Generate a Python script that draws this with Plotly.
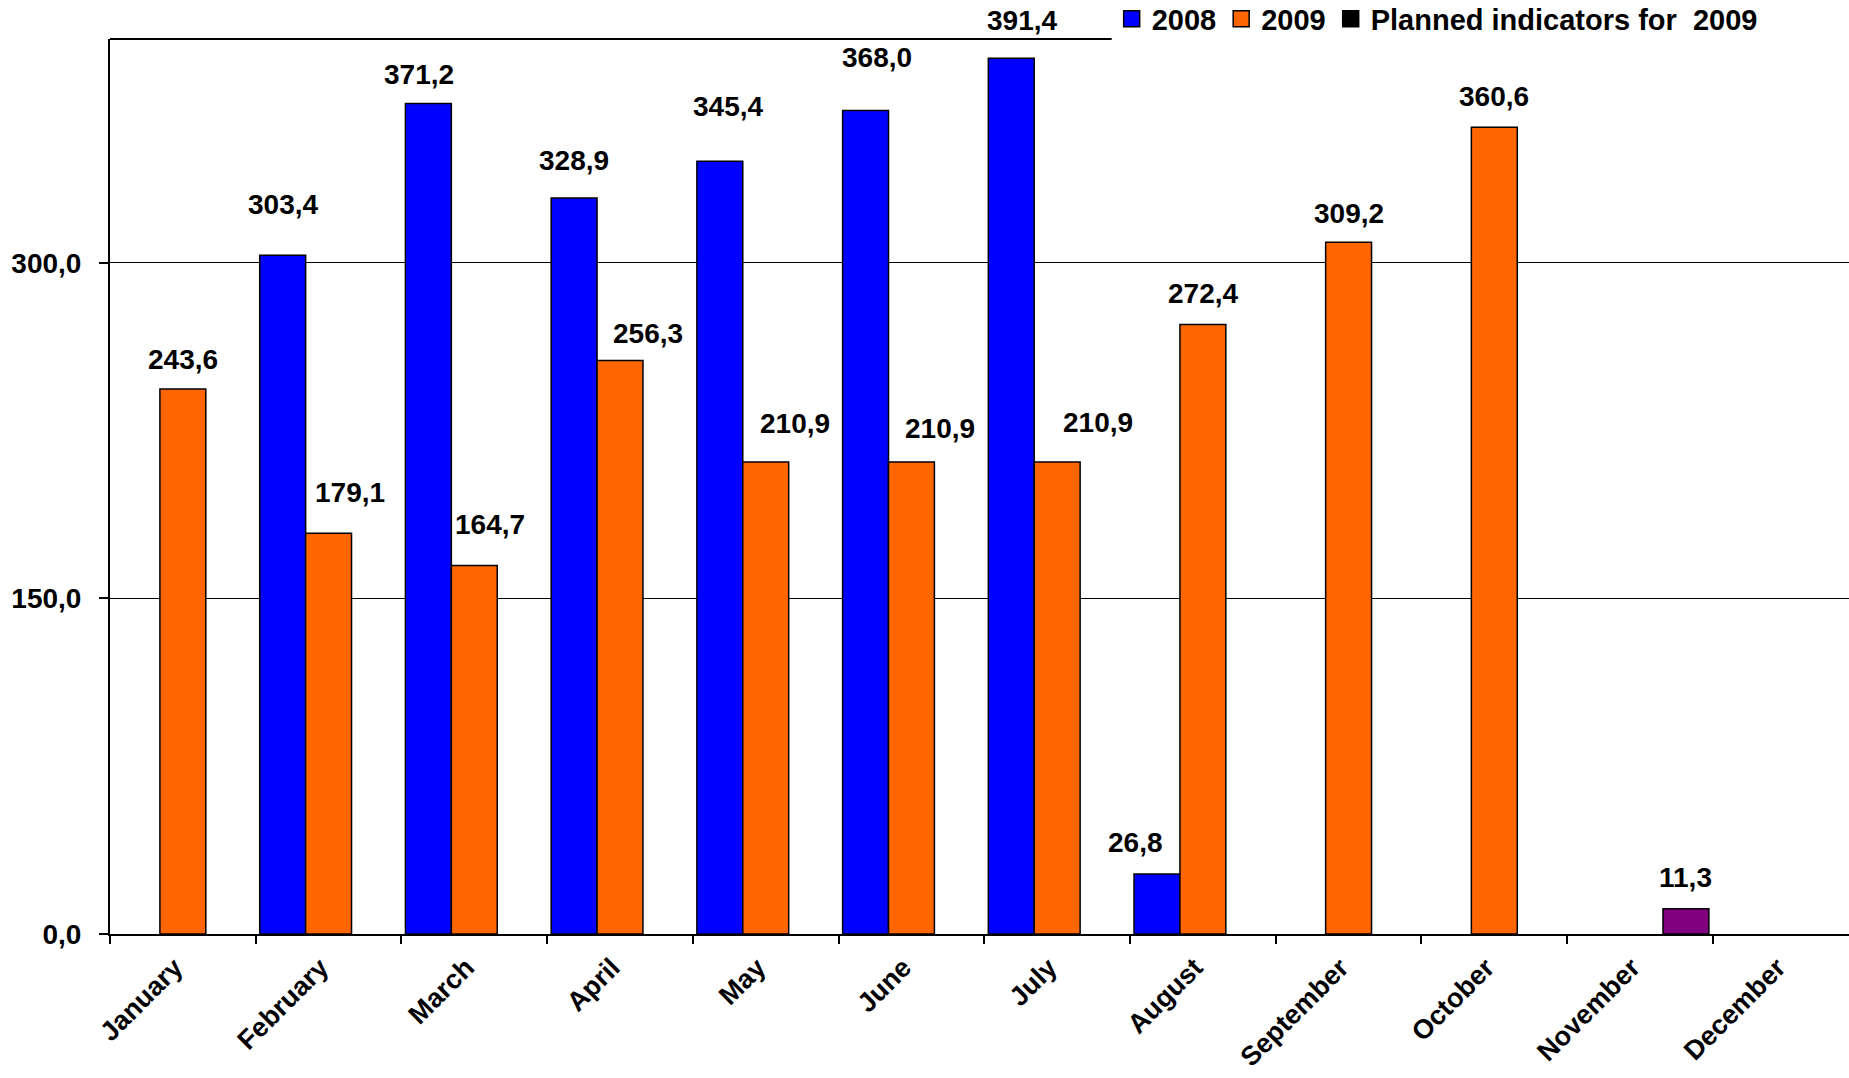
import plotly.graph_objects as go

months = ["January", "February", "March", "April", "May", "June", "July",
          "August", "September", "October", "November", "December"]
v2008 = [None, 303.4, 371.2, 328.9, 345.4, 368.0, 391.4, 26.8, None, None, None, None]
v2009 = [243.6, 179.1, 164.7, 256.3, 210.9, 210.9, 210.9, 272.4, 309.2, 360.6, None, None]
planned = [None, None, None, None, None, None, None, None, None, None, 11.3, None]
y_ticks = [0, 150, 300]
y_tick_text = ["0,0", "150,0", "300,0"]

# label nudges (pixels) to mimic hand-placed data labels
dx2008 = [0, 0, -9, 0, 8, 11, 11, -21, 0, 0, 0, 0]
dy2008 = [0, 51, 29, 38, 55, 53, 38, 32, 0, 0, 0, 0]
dx2009 = [0, 21, 16, 28, 29, 29, 41, 0, 0, 0, 0, 0]
dy2009 = [29, 41, 41, 27, 39, 34, 40, 31, 29, 31, 0, 0]
dyplan = [0] * 10 + [31, 0]

FONT = "Liberation Sans, Arial, sans-serif"
BARGAP = 0.055
W = (1 - BARGAP) / 3

fig = go.Figure()
line = dict(color="black", width=1.5)
fig.add_trace(go.Bar(name="2008", x=months, y=v2008, marker=dict(color="#0000FF", line=line), showlegend=False))
fig.add_trace(go.Bar(name="2009", x=months, y=v2009, marker=dict(color="#FF6600", line=line), showlegend=False))
fig.add_trace(go.Bar(name="Planned indicators for  2009", x=months, y=planned,
                     marker=dict(color="#800080", line=line), showlegend=False))
# legend entries (square swatches as in the original)
for name, col in [("2008", "#0000FF"), ("2009", "#FF6600"), ("Planned indicators for  2009", "black")]:
    fig.add_trace(go.Scatter(name=name, x=[months[0]], y=[None], mode="markers",
                             marker=dict(symbol="square", color=col, size=17,
                                         line=dict(color="black", width=1.5))))

def fmt(v):
    return f"{v:.1f}".replace(".", ",")

annots = []
for series, off, dxs, dys in [(v2008, -W, dx2008, dy2008), (v2009, 0, dx2009, dy2009), (planned, W, [0]*12, dyplan)]:
    for i, v in enumerate(series):
        if v is None:
            continue
        annots.append(dict(x=i + off, y=v, xref="x", yref="y", text=fmt(v), showarrow=False,
                           yanchor="middle", xanchor="center", xshift=dxs[i], yshift=dys[i],
                           font=dict(family=FONT, size=28, color="black", weight="bold")))

fig.update_layout(
    barmode="group", bargap=BARGAP, bargroupgap=0,
    width=1849, height=1078,
    margin=dict(l=110, r=0, t=39, b=144, autoexpand=False),
    paper_bgcolor="white", plot_bgcolor="white",
    annotations=annots,
    showlegend=True,
    legend=dict(orientation="h", x=0.576, y=1.051, xanchor="left", yanchor="top",
                bgcolor="white", borderwidth=0, traceorder="normal",
                font=dict(family=FONT, size=29, color="black", weight="bold"),
                itemwidth=30, tracegroupgap=0),
    font=dict(family=FONT, color="black"),
    shapes=[dict(type="line", xref="paper", yref="paper", x0=0, x1=0.576, y0=1, y1=1,
                 line=dict(color="black", width=2))],
)
fig.update_xaxes(type="category", range=[-0.5, 11.434], tickson="boundaries",
                 ticks="outside", ticklen=8, tickwidth=2, tickcolor="black",
                 showline=True, linecolor="black", linewidth=2,
                 tickangle=-45, ticklabelstandoff=5, ticklabelshift=-8,
                 tickfont=dict(family=FONT, size=27, color="black", weight="bold"),
                 showgrid=False)
fig.update_yaxes(range=[0, 400], tickvals=y_ticks, ticktext=y_tick_text,
                 ticks="outside", ticklen=9, tickwidth=2, tickcolor="black",
                 showline=True, linecolor="black", linewidth=2,
                 showgrid=True, gridcolor="black", gridwidth=1, zeroline=False,
                 ticklabelstandoff=12,
                 tickfont=dict(family=FONT, size=28, color="black", weight="bold"))

fig.write_html("out.html")
